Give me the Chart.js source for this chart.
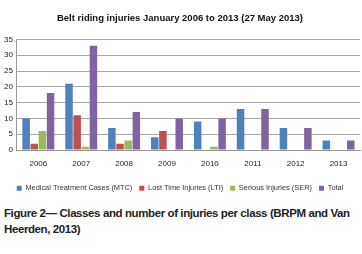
<!DOCTYPE html>
<html>
<head>
<meta charset="utf-8">
<script src="https://cdn.jsdelivr.net/npm/chart.js@4/dist/chart.umd.min.js"></script>
<style>
  body { margin: 0; background: #fff; width: 362px; height: 254px; overflow: hidden; }
  #wrap { position: absolute; left: 0; top: 0; width: 362px; height: 202px; }
  #caption { position: absolute; left: 4px; top: 205px; width: 356px;
    font-family: "Liberation Sans", Arial, sans-serif; font-weight: bold;
    font-size: 11.5px; line-height: 16px; color: #222; letter-spacing: -0.4px; }
</style>
</head>
<body>
<div id="wrap"><canvas id="myChart"></canvas></div>
<div id="caption">Figure 2— Classes and number of injuries per class (BRPM and Van Heerden, 2013)</div>
<script>
// values
const years = ["2006", "2007", "2008", "2009", "2010", "2011", "2012", "2013"];
const mtc = [10, 21, 7, 4, 9, 13, 7, 3];
const lti = [2, 11, 2, 6, 0, 0, 0, 0];
const ser = [6, 1, 3, 0, 1, 0, 0, 0];
const total = [18, 33, 12, 10, 10, 13, 7, 3];

const ctx = document.getElementById('myChart').getContext('2d');
const myChart = new Chart(ctx, {
  type: 'bar',
  data: {
    labels: years,
    datasets: [
      { label: 'Medical Treatment Cases (MTC)', data: mtc, backgroundColor: '#4F81BD' },
      { label: 'Lost Time Injuries (LTI)', data: lti, backgroundColor: '#C0504D' },
      { label: 'Serious Injuries (SER)', data: ser, backgroundColor: '#9BBB59' },
      { label: 'Total', data: total, backgroundColor: '#8064A2' }
    ]
  },
  options: {
    responsive: true,
    maintainAspectRatio: false,
    animation: false,
    datasets: { bar: { barPercentage: 0.92, categoryPercentage: 0.76 } },
    layout: { padding: { left: 0, right: 2, top: 9, bottom: 0 } },
    plugins: {
      title: {
        display: true,
        text: 'Belt riding injuries January 2006 to 2013 (27 May 2013)',
        color: '#111',
        font: { family: 'Liberation Sans', size: 9.5, weight: 'bold' },
        padding: { top: 4, bottom: 15 }
      },
      legend: {
        position: 'bottom',
        labels: {
          boxWidth: 5, boxHeight: 5, padding: 7, color: '#333',
          font: { family: 'Liberation Sans', size: 7.4 }
        }
      },
      tooltip: { enabled: false }
    },
    scales: {
      x: {
        grid: { display: false, drawTicks: false },
        border: { color: '#999' },
        ticks: { color: '#222', padding: 9, font: { family: 'Liberation Sans', size: 8 } }
      },
      y: {
        min: 0, max: 35,
        ticks: { stepSize: 5, color: '#222', padding: 4, font: { family: 'Liberation Sans', size: 8 } },
        grid: { color: '#aaa', drawTicks: false },
        border: { color: '#999' }
      }
    }
  }
});
</script>
</body>
</html>
